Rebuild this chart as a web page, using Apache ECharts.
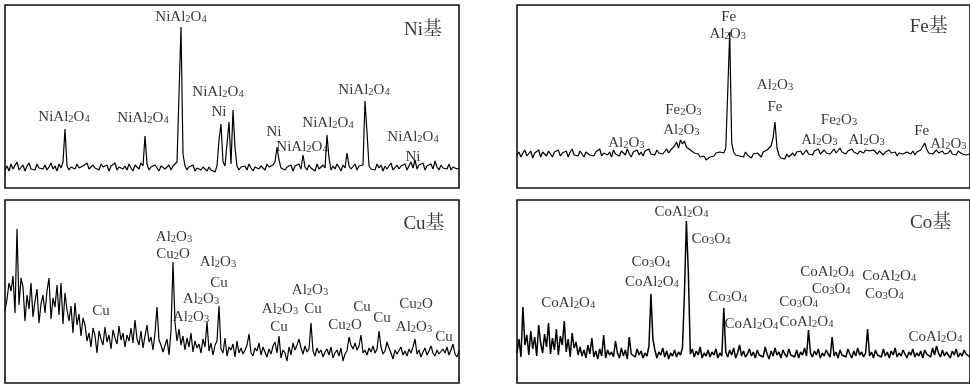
<!DOCTYPE html>
<html><head><meta charset="utf-8">
<script src="https://cdn.jsdelivr.net/npm/echarts@6/dist/echarts.min.js"></script>
<style>html,body{margin:0;padding:0;background:#fff}#c{width:970px;height:386px}</style>
</head><body><div id="c"></div>
<script>
const niValues = [
18,22,17,24,19,21,26,18,20,23,17,22,25,19,21,18,24,20,22,19,
23,18,21,25,19,22,17,24,20,26,59,22,18,21,23,19,24,20,18,22,
21,25,19,17,23,20,22,18,24,21,19,23,17,22,20,25,18,21,23,19,
22,18,24,20,17,23,21,19,25,22,52,24,18,21,19,23,20,17,22,24,
19,21,23,18,22,20,26,28,161,34,22,18,21,19,23,17,20,22,18,21,
19,17,21,18,20,16,22,48,64,26,22,24,66,24,78,40,22,18,21,19,
22,18,24,20,17,21,23,19,22,20,18,24,21,19,23,26,41,28,20,22,
18,21,19,23,17,22,20,24,19,33,21,18,23,20,22,17,24,19,21,23,
20,53,30,18,22,19,24,21,17,23,20,35,22,19,21,24,18,22,20,23,
87,56,22,19,21,18,24,20,23,17,22,19,21,25,18,20,23,19,22,21,
24,18,22,26,20,28,19,23,21,25,18,22,20,24,19,27,21,18,23,20,
22,19,24,18,21,23,19,20];
const feValues = [
33,36,31,35,38,32,34,37,30,35,33,38,31,36,34,32,37,35,31,36,
34,38,32,35,33,37,31,36,39,33,35,32,37,34,31,36,38,33,35,32,
36,34,39,32,35,37,33,36,31,38,34,35,32,37,36,33,39,34,31,36,
35,38,33,36,32,37,35,39,34,36,33,38,35,37,34,36,39,35,38,37,
42,46,40,48,44,47,41,43,38,36,35,33,34,31,30,32,28,29,31,33,
32,35,34,36,37,35,40,96,156,45,36,33,35,32,34,31,36,33,35,30,
34,32,35,33,31,36,34,38,37,42,50,66,40,33,30,32,29,34,31,33,
35,32,36,34,37,33,35,38,34,36,33,37,35,39,34,36,38,35,37,34,
36,39,35,37,40,36,38,34,37,35,39,36,38,34,37,39,35,38,36,37,
35,38,36,34,37,35,33,36,34,38,35,33,36,32,35,37,34,33,36,35,
34,37,33,36,35,38,40,45,39,35,37,34,36,38,35,33,37,34,36,35,
38,34,36,33,37,35,34,36,33,35,34];
const cuValues = [
72,84,100,92,107,70,154,78,105,96,62,88,74,100,66,82,94,60,79,88,
70,92,105,64,85,76,98,68,100,59,90,73,62,77,50,80,58,69,47,65,
58,42,50,36,55,47,30,52,44,38,56,41,48,34,53,45,39,57,43,50,
36,48,42,55,40,63,44,38,52,35,47,58,41,46,33,50,76,43,38,31,
30,44,28,52,121,60,42,54,38,47,33,45,36,50,31,42,35,39,30,44,
36,61,32,40,28,38,42,77,34,30,45,27,36,33,39,26,42,30,35,29,
33,38,49,30,27,35,32,40,28,36,31,26,34,29,37,41,30,47,25,33,
30,22,36,28,40,33,38,44,35,29,37,31,34,60,32,27,35,30,33,26,
31,34,28,36,25,30,33,27,35,22,29,32,46,38,34,40,33,37,48,30,
33,28,35,31,37,30,34,52,36,29,32,41,35,30,24,33,29,31,36,28,
32,27,34,30,36,44,29,33,26,31,35,28,32,37,30,27,33,29,31,34,
30,36,28,33,39,29,26,32];
const coValues = [
30,44,26,76,38,48,28,52,34,46,27,58,40,30,49,36,60,29,45,33,
54,28,47,38,62,31,44,26,50,35,41,28,36,27,33,25,38,29,45,26,
32,24,34,27,48,25,33,28,31,26,42,30,25,35,27,33,24,46,29,31,
26,34,28,32,25,30,27,37,89,44,33,25,31,28,35,26,32,24,30,27,
33,26,31,28,35,88,162,110,29,34,26,32,28,36,25,30,27,33,26,31,
28,34,25,30,27,75,31,26,33,28,35,25,30,38,27,32,26,29,34,27,
31,25,33,28,30,26,36,29,24,32,27,35,28,31,25,33,29,26,34,28,
30,26,33,25,31,28,35,27,53,30,26,32,28,34,25,30,27,33,29,26,
46,27,31,25,33,28,30,26,34,29,25,32,27,35,28,31,26,30,54,27,
31,25,33,28,30,26,34,27,31,25,32,28,35,26,30,27,33,29,25,31,
28,34,26,30,27,32,25,33,29,31,26,35,28,37,30,26,33,27,31,29,
25,32,28,34,26,30,27,33,29,31,26];

// Peak annotations: [text, sample index, intensity]
const niLabels = [
['NiAl2O4',29.5,71],['NiAl2O4',69,70],['NiAl2O4',88,171],['NiAl2O4',106.5,96],['Ni',107,76],
['Ni',134.5,56],['NiAl2O4',148.5,41],['NiAl2O4',161.5,65],['NiAl2O4',179.5,98],
['NiAl2O4',204,51],['Ni',204,31]];
const feLabels = [
['Al2O3',55.5,45],['Fe2O3',84.5,78],['Al2O3',83.5,58],['Fe',107.5,171],['Al2O3',107,154],
['Al2O3',131,103],['Fe',131,81],['Fe2O3',163.5,68],['Al2O3',153.5,48],['Al2O3',177.5,48],
['Fe',205.5,57],['Al2O3',219,44]];
const cuLabels = [
['Al2O3',84.5,146],['Cu2O',84,129],['Al2O3',106.5,121],['Cu',107,100],['Al2O3',98,84],
['Al2O3',93,66],['Cu',48,72],['Al2O3',137.5,74],['Cu',137,56],['Al2O3',152.5,93],['Cu',154,74],
['Cu2O',170,58],['Cu',178.5,76],['Cu',188.5,65],['Cu2O',205.5,79],['Al2O3',204.5,56],['Cu',219.5,46]];
const coLabels = [
['CoAl2O4',83.5,171],['Co3O4',98.5,144],['Co3O4',68,121],['CoAl2O4',68.5,101],['CoAl2O4',26,80],
['Co3O4',107,86],['CoAl2O4',119,59],['CoAl2O4',157.5,111],['Co3O4',159.5,94],['Co3O4',143,81],
['CoAl2O4',147,61],['CoAl2O4',189,107],['Co3O4',186.5,89],['CoAl2O4',212.5,46]];
const panelTitles = [['Ni基',209,158],['Fe基',209,161],['Cu基',209.5,159],['Co基',210,160]];

const panels = [
  {values: niValues, labels: niLabels, grid: {left: 5, top: 5, width: 454, height: 183}, lw: 1.2},
  {values: feValues, labels: feLabels, grid: {left: 517, top: 5, width: 460, height: 183}, lw: 1.2},
  {values: cuValues, labels: cuLabels, grid: {left: 5, top: 200, width: 454, height: 183}, lw: 1.2},
  {values: coValues, labels: coLabels, grid: {left: 517, top: 200, width: 460, height: 183}, lw: 1.5}
];

const FONT = "'Liberation Serif','Times New Roman',serif";
const richSub = {s: {fontSize: 10.5, fontFamily: FONT, lineHeight: 8, verticalAlign: 'bottom', color: '#000'}};
function chem(t) { return t.replace(/(\d)/g, '{s|$1}'); }

const grids = [], xAxes = [], yAxes = [], series = [];
panels.forEach((p, k) => {
  grids.push(Object.assign({show: true, borderColor: '#111', borderWidth: 1.6, backgroundColor: 'transparent'}, p.grid));
  xAxes.push({type: 'value', gridIndex: k, min: 0, max: p.grid.width / 2, show: false});
  yAxes.push({type: 'value', gridIndex: k, min: 0, max: 183, show: false});
  series.push({
    type: 'line', xAxisIndex: k, yAxisIndex: k, showSymbol: false, silent: true,
    data: p.values.map((v, i) => [i, v]),
    lineStyle: {color: '#000', width: p.lw}, animation: false
  });
  series.push({
    type: 'scatter', xAxisIndex: k, yAxisIndex: k, silent: true, symbolSize: 1,
    itemStyle: {color: 'transparent'}, animation: false,
    data: p.labels.map(l => ({value: [l[1], l[2]], name: l[0]})),
    label: {show: true, position: 'inside', color: '#000', fontFamily: FONT, fontSize: 15, lineHeight: 15,
      formatter: prm => chem(prm.name), rich: richSub}
  });
  const t = panelTitles[k];
  series.push({
    type: 'scatter', xAxisIndex: k, yAxisIndex: k, silent: true, symbolSize: 1,
    itemStyle: {color: 'transparent'}, animation: false,
    data: [{value: [t[1], t[2]], name: t[0]}],
    label: {show: true, position: 'inside', color: '#000', fontFamily: "'Liberation Serif','Noto Serif CJK SC','Noto Sans CJK SC',serif", fontSize: 19,
      formatter: prm => prm.name}
  });
});

const chart = echarts.init(document.getElementById('c'), null, {renderer: 'canvas'});
chart.setOption({animation: false, grid: grids, xAxis: xAxes, yAxis: yAxes, series: series});
</script></body></html>
